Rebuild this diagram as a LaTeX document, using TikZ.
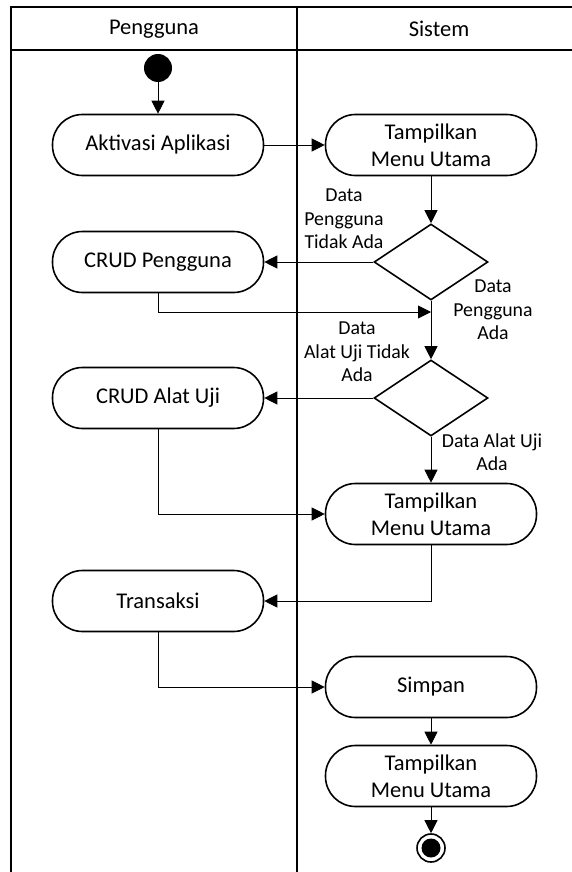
\documentclass[tikz,border=0pt]{standalone}
\usepackage{fontspec}
\setmainfont{Carlito}
\usetikzlibrary{shapes.geometric,arrows.meta}
\begin{document}
\begin{tikzpicture}[x=1pt,y=-1pt,
  act/.style={draw,line width=1.6pt,rectangle,rounded corners=30pt,minimum width=211pt,minimum height=61pt,align=center,font=\fontsize{22.5}{27}\selectfont,inner sep=0pt},
  dec/.style={draw,line width=1.6pt,diamond,minimum width=114pt,minimum height=76pt,inner sep=0pt},
  lbl/.style={align=center,font=\fontsize{19.8}{23.3}\selectfont,inner sep=0pt},
  arr/.style={line width=0.9pt,-{Triangle[length=13pt,width=13pt]}},
  frame/.style={line width=1.8pt}]
\useasboundingbox (0,0) rectangle (571,872);
% frame
\draw[frame] (11,7) rectangle (581,900);
\draw[frame] (11,50) -- (581,50);
\draw[frame] (297,7) -- (297,900);
\node[font=\fontsize{22.5}{27}\selectfont] (h1) at (154,29) {Pengguna};
\node[font=\fontsize{22.5}{27}\selectfont] (h2) at (439,29) {Sistem};
% nodes
\node[circle,fill=black,minimum size=28pt,inner sep=0pt] (start) at (158,68) {};
\node[act] (akt) at (158,145) {Aktivasi Aplikasi};
\node[act] (tmp1) at (431,145) {Tampilkan\\Menu Utama};
\node[dec] (d1) at (431,262) {};
\node[act] (crudp) at (158,262) {CRUD Pengguna};
\node[dec] (d2) at (431,398) {};
\node[act] (crudau) at (158,398) {CRUD Alat Uji};
\node[act] (tmp2) at (431,514) {Tampilkan\\Menu Utama};
\node[act] (trans) at (158,601) {Transaksi};
\node[act] (simpan) at (431,687) {Simpan};
\node[act] (tmp3) at (431,776) {Tampilkan\\Menu Utama};
\node[circle,draw,line width=1.6pt,minimum size=28pt,inner sep=0pt] (end) at (431,848) {};
\node[circle,fill=black,minimum size=19pt,inner sep=0pt] (endin) at (431,848) {};
\coordinate (m1) at (431,312);
% labels
\node[lbl] (l1) at (344,219) {Data\\Pengguna\\Tidak Ada};
\node[lbl] (l2) at (493,310) {Data\\Pengguna\\Ada};
\node[lbl] (l3) at (357,352) {Data\\Alat Uji Tidak\\Ada};
\node[lbl] (l4) at (492,452) {Data Alat Uji\\Ada};
% connectors
\draw[arr] (start) -- (akt);
\draw[arr] (akt) -- (tmp1);
\draw[arr] (tmp1) -- (d1);
\draw[arr] (d1.west) -- (crudp.east);
\draw[arr] (d1.south) -- (d2.north);
\draw[arr] (crudp.south) |- (m1);
\draw[arr] (d2.west) -- (crudau.east);
\draw[arr] (d2.south) -- (tmp2.north);
\draw[arr] (crudau.south) |- (tmp2.west);
\draw[arr] (tmp2.south) |- (trans.east);
\draw[arr] (trans.south) |- (simpan.west);
\draw[arr] (simpan) -- (tmp3);
\draw[arr] (tmp3) -- (end);
\end{tikzpicture}
\end{document}
